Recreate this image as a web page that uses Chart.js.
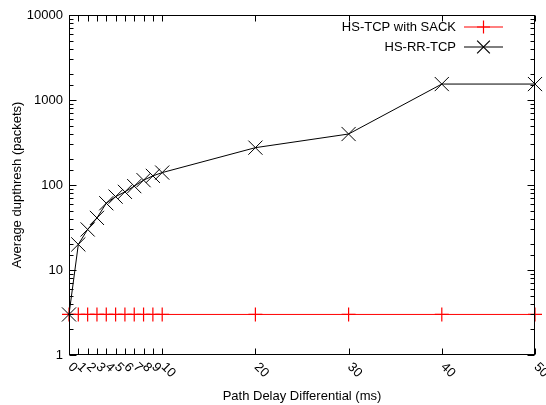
<!DOCTYPE html>
<html><head><meta charset="utf-8">
<script src="https://cdn.jsdelivr.net/npm/chart.js@4.4.1/dist/chart.umd.min.js"></script>
<style>html,body{margin:0;padding:0;background:#fff}#wrap{width:546px;height:405px}</style>
</head><body><div id="wrap"><canvas id="c" width="546" height="405"></canvas></div>
<script>
// ---- data ----
const delays = [0, 1, 2, 3, 4, 5, 6, 7, 8, 9, 10, 20, 30, 40, 50];
const hsTcpSack = [3, 3, 3, 3, 3, 3, 3, 3, 3, 3, 3, 3, 3, 3, 3];
const hsRrTcp = [3, 20, 30, 41, 61, 73, 83, 97, 114, 128, 140, 275, 398, 1540, 1540];
const xTickValues = [0, 1, 2, 3, 4, 5, 6, 7, 8, 9, 10, 20, 30, 40, 50];
const yTickLabels = [1, 10, 100, 1000, 10000];
const seriesNames = ['HS-TCP with SACK', 'HS-RR-TCP'];
const seriesColors = ['#ff0000', '#000000'];
const seriesMarkers = ['cross', 'crossRot'];
const markerRadius = [7, 10];
const xTitle = 'Path Delay Differential (ms)';
const yTitle = 'Average dupthresh (packets)';

const FONT = '"Liberation Sans", Arial, Helvetica, sans-serif';

function toPoints(xs, ys) { return xs.map((x, i) => ({ x: x, y: ys[i] })); }

function marker(ctx, style, r, cx, cy) {
  ctx.beginPath();
  if (style === 'cross') {
    ctx.moveTo(cx - r, cy); ctx.lineTo(cx + r, cy);
    ctx.moveTo(cx, cy - r); ctx.lineTo(cx, cy + r);
  } else {
    const d = r * Math.SQRT1_2;
    ctx.moveTo(cx - d, cy - d); ctx.lineTo(cx + d, cy + d);
    ctx.moveTo(cx - d, cy + d); ctx.lineTo(cx + d, cy - d);
  }
  ctx.stroke();
}

const framePlugin = {
  id: 'frame',
  afterDatasetsDraw(chart) {
    const { ctx, chartArea: a, scales: { x, y } } = chart;
    ctx.save();
    ctx.strokeStyle = '#000';
    ctx.lineWidth = 1;
    ctx.beginPath();
    const L = Math.round(a.left) + 0.5, R = Math.round(a.right) - 0.5;
    const T = Math.round(a.top) + 0.5, B = Math.round(a.bottom) - 0.5;
    xTickValues.forEach(v => {
      const px = Math.round(x.getPixelForValue(v)) + 0.5;
      ctx.moveTo(px, B); ctx.lineTo(px, B - 6);
      ctx.moveTo(px, T); ctx.lineTo(px, T + 6);
    });
    y.ticks.forEach(t => {
      const lg = Math.log10(t.value);
      const major = Math.abs(lg - Math.round(lg)) < 1e-9;
      const len = major ? 7 : 4;
      const py = Math.round(y.getPixelForValue(t.value)) + 0.5;
      ctx.moveTo(L, py); ctx.lineTo(L + len, py);
      ctx.moveTo(R, py); ctx.lineTo(R - len, py);
    });
    ctx.stroke();
    ctx.strokeRect(L, T, R - L, B - T);

    // rotated x tick labels (gnuplot style, rotate by -45)
    ctx.fillStyle = '#000';
    ctx.font = '13px ' + FONT;
    ctx.textAlign = 'left';
    ctx.textBaseline = 'middle';
    xTickValues.forEach(v => {
      const px = x.getPixelForValue(v);
      ctx.save();
      ctx.translate(px + 1, a.bottom + 10);
      ctx.rotate(Math.PI / 4);
      ctx.fillText(String(v), 0, 0);
      ctx.restore();
    });

    // legend inside top-right
    ctx.font = '13px ' + FONT;
    ctx.textAlign = 'right';
    seriesNames.forEach((name, i) => {
      const ly = 27 + i * 20;
      ctx.fillStyle = '#000';
      ctx.fillText(name, 456, ly);
      ctx.strokeStyle = seriesColors[i];
      ctx.lineWidth = 1.2;
      ctx.beginPath();
      ctx.moveTo(464, ly); ctx.lineTo(503, ly);
      ctx.stroke();
      marker(ctx, seriesMarkers[i], markerRadius[i] - (i ? 1 : 0.5), 483.5, ly);
    });
    ctx.restore();
  }
};

new Chart(document.getElementById('c'), {
  type: 'scatter',
  data: {
    datasets: [
      {
        label: seriesNames[0],
        data: toPoints(delays, hsTcpSack),
        showLine: true,
        borderColor: seriesColors[0],
        backgroundColor: seriesColors[0],
        pointBorderColor: seriesColors[0],
        pointBackgroundColor: seriesColors[0],
        borderWidth: 1,
        pointStyle: seriesMarkers[0],
        pointRadius: markerRadius[0],
        pointBorderWidth: 1.2,
        pointHoverRadius: markerRadius[0],
        clip: false,
        order: 1
      },
      {
        label: seriesNames[1],
        data: toPoints(delays, hsRrTcp),
        showLine: true,
        borderColor: seriesColors[1],
        backgroundColor: seriesColors[1],
        pointBorderColor: seriesColors[1],
        pointBackgroundColor: seriesColors[1],
        borderWidth: 1,
        pointStyle: seriesMarkers[1],
        pointRadius: markerRadius[1],
        pointBorderWidth: 1,
        pointHoverRadius: markerRadius[1],
        clip: false,
        order: 0
      }
    ]
  },
  options: {
    responsive: false,
    animation: false,
    devicePixelRatio: 1,
    layout: { padding: { top: 15, right: 7, left: 0, bottom: 0 } },
    plugins: { legend: { display: false }, tooltip: { enabled: false } },
    scales: {
      x: {
        type: 'linear', min: 0, max: 50,
        grid: { display: false, drawTicks: false },
        border: { display: false },
        ticks: { display: false },
        afterFit(s) { s.height = 50; },
        title: { display: true, text: xTitle, color: '#000', font: { family: FONT, size: 13 }, padding: { top: 0, bottom: 1 } }
      },
      y: {
        type: 'logarithmic', min: 1, max: 10000,
        grid: { display: false, drawTicks: false },
        border: { display: false },
        ticks: {
          autoSkip: false, padding: 6, color: '#000', font: { family: FONT, size: 13 },
          callback: (v) => yTickLabels.includes(v) ? String(v) : ''
        },
        afterFit(s) { s.width = 69; },
        title: { display: true, text: yTitle, color: '#000', font: { family: FONT, size: 13 }, padding: { top: 10, bottom: 0 } }
      }
    }
  },
  plugins: [framePlugin]
});
</script>
</body></html>
